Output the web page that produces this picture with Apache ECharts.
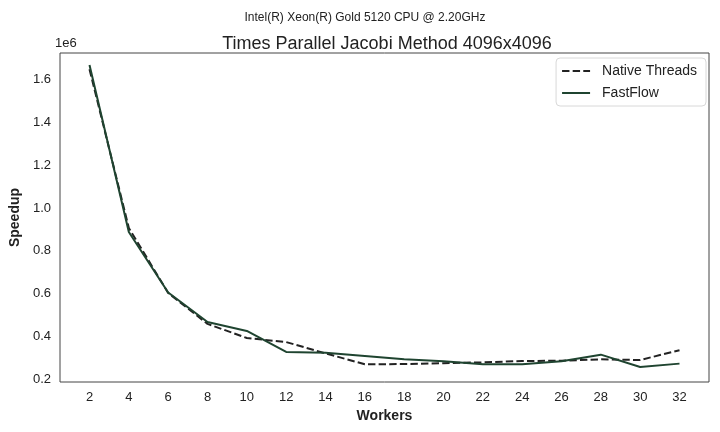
<!DOCTYPE html>
<html><head><meta charset="utf-8">
<script src="https://cdn.jsdelivr.net/npm/echarts@6/dist/echarts.min.js"></script>
<style>html,body{margin:0;padding:0;background:#fff}#c{width:720px;height:432px}</style>
</head><body><div id="c"></div>
<script>
const workers = [2,4,6,8,10,12,14,16,18,20,22,24,26,28,30,32];
const nativeThreads = [1650000,907000,603000,458000,392000,373000,320000,269000,270000,274000,278000,284000,286000,292000,289000,335000];
const fastFlow = [1670000,888000,605000,467000,425000,327000,323000,308000,292000,283000,269000,269000,283000,314000,256000,272000];
const xTicks = [2,4,6,8,10,12,14,16,18,20,22,24,26,28,30,32];
const yTicks = [200000,400000,600000,800000,1000000,1200000,1400000,1600000];

const F = 'Liberation Sans, Arial, sans-serif';
const chart = echarts.init(document.getElementById('c'), null, {renderer:'canvas'});
chart.setOption({
  backgroundColor:'#fff',
  animation:false,
  title:[
    {text:'Intel(R) Xeon(R) Gold 5120 CPU @ 2.20GHz', left:360, top:7, textAlign:'center',
     textStyle:{fontFamily:F, fontSize:12, fontWeight:'normal', color:'#222'}},
    {text:'Times Parallel Jacobi Method 4096x4096', left:382, top:30, textAlign:'center',
     textStyle:{fontFamily:F, fontSize:18, fontWeight:'normal', color:'#222'}}
  ],
  graphic:[
    {type:'text', left:55, top:37, style:{text:'1e6', font:'13px '+F, fill:'#222'}}
  ],
  legend:{
    right:14, top:58, orient:'vertical', itemWidth:28, itemHeight:12, itemGap:8,
    padding:[6,9,6,5], borderColor:'#d8d8d8', borderWidth:1, borderRadius:4,
    backgroundColor:'#fff',
    itemStyle:{opacity:0},
    textStyle:{fontFamily:F, fontSize:14, color:'#222', padding:[0,0,0,7]},
    data:['Native Threads','FastFlow']
  },
  grid:{left:56, right:11, top:53, bottom:50, show:true, borderColor:'#444', borderWidth:1, containLabel:false},
  xAxis:{
    type:'value', min:0.5, max:33.5,
    name:'Workers', nameLocation:'middle', nameGap:23,
    nameTextStyle:{fontFamily:F, fontSize:14, fontWeight:'bold', color:'#222'},
    axisLine:{show:false}, axisTick:{show:false}, splitLine:{show:false},
    axisLabel:{customValues:xTicks, fontFamily:F, fontSize:13, color:'#222', margin:9}
  },
  yAxis:{
    type:'value', min:186000, max:1726000,
    name:'Speedup', nameLocation:'middle', nameGap:38,
    nameTextStyle:{fontFamily:F, fontSize:14, fontWeight:'bold', color:'#222'},
    axisLine:{show:false}, axisTick:{show:false}, splitLine:{show:false},
    axisLabel:{customValues:yTicks, fontFamily:F, fontSize:13, color:'#222', margin:9,
      formatter:v=>(v/1e6).toFixed(1)}
  },
  series:[
    {name:'Native Threads', type:'line', symbol:'none', color:'#222',
     lineStyle:{width:2, type:[7.4,3.2], color:'#222'},
     data:workers.map((w,i)=>[w,nativeThreads[i]])},
    {name:'FastFlow', type:'line', symbol:'none', color:'#1f4430',
     lineStyle:{width:2, color:'#1f4430'},
     data:workers.map((w,i)=>[w,fastFlow[i]])}
  ]
});
</script></body></html>
